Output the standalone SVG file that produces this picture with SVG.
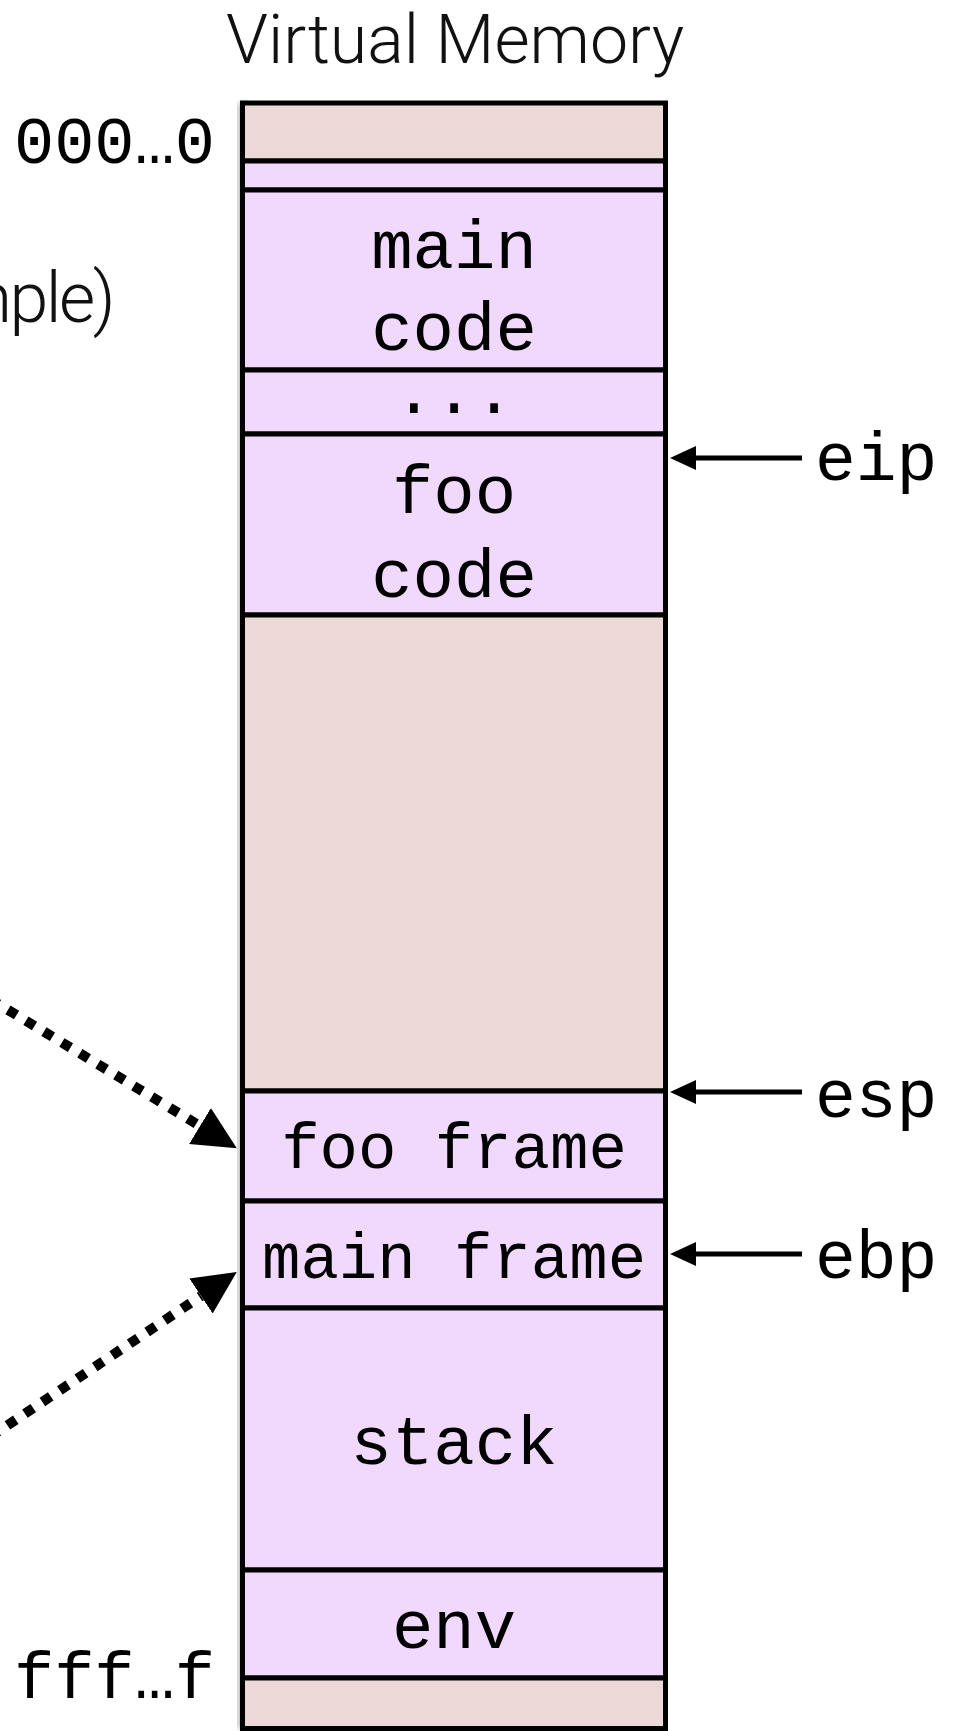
<svg xmlns="http://www.w3.org/2000/svg" width="958" height="1731" viewBox="0 0 958 1731">
  <style>
    .seg { stroke: #000; stroke-width: 5; }
    .free { fill: #EBD8D7; }
    .used { fill: #F1D9FD; }
    .mono { font-family: "Liberation Mono", "Courier New", monospace; fill: #000; }
    .sans { font-family: Roboto, "Liberation Sans", Arial, sans-serif; font-weight: 300; fill: #111; }
    .lbl { text-anchor: middle; }
    .ptr { stroke: #000; stroke-width: 5; fill: none; marker-end: url(#headSmall); }
    .link { stroke: #000; stroke-width: 10; fill: none; stroke-dasharray: 10 11; marker-end: url(#headBig); }
  </style>
  <defs>
    <marker id="headSmall" markerUnits="userSpaceOnUse" viewBox="0 0 26 24" refX="0" refY="12" markerWidth="26" markerHeight="24" orient="auto">
      <path d="M0,0 L26,12 L0,24 z" fill="#000"/>
    </marker>
    <marker id="headBig" markerUnits="userSpaceOnUse" viewBox="0 0 43 42" refX="0" refY="21" markerWidth="43" markerHeight="42" orient="auto">
      <path d="M0,0 L43,21 L0,42 z" fill="#000"/>
    </marker>
    <filter id="shade" x="-10%" y="-2%" width="120%" height="104%">
      <feGaussianBlur stdDeviation="3"/>
    </filter>
  </defs>

  <rect width="958" height="1731" fill="#fff"/>

  <!-- title and address labels -->
  <text class="sans" x="455" y="63" font-size="68" text-anchor="middle" textLength="458" lengthAdjust="spacingAndGlyphs">Virtual Memory</text>
  <text class="sans" x="113" y="322" font-size="70" text-anchor="end" letter-spacing="-2.5">mple)</text>
  <text class="mono" x="215" y="163" font-size="67" text-anchor="end">000…0</text>
  <text class="mono" x="215" y="1698" font-size="67" text-anchor="end">fff…f</text>

  <!-- soft shade along the left side of the column -->
  <rect x="238" y="103" width="10" height="1626" fill="#000" opacity="0.3" filter="url(#shade)"/>

  <!-- memory column, top (low addresses) to bottom (high addresses) -->
  <g id="gap-top"><rect class="seg free" x="242.5" y="103" width="423" height="58"/></g>
  <g id="reserved"><rect class="seg used" x="242.5" y="161" width="423" height="29"/></g>
  <g id="main-code">
    <rect class="seg used" x="242.5" y="190" width="423" height="180"/>
    <text class="mono lbl" x="454" y="268" font-size="69">main</text>
    <text class="mono lbl" x="454" y="350" font-size="69">code</text>
  </g>
  <g id="more-code">
    <rect class="seg used" x="242.5" y="370" width="423" height="64"/>
    <text class="mono lbl" x="454" y="413" font-size="67">...</text>
  </g>
  <g id="foo-code">
    <rect class="seg used" x="242.5" y="434" width="423" height="181"/>
    <text class="mono lbl" x="454" y="513" font-size="69">foo</text>
    <text class="mono lbl" x="454" y="597" font-size="69">code</text>
  </g>
  <g id="free-space"><rect class="seg free" x="242.5" y="615" width="423" height="476"/></g>
  <g id="foo-frame">
    <rect class="seg used" x="242.5" y="1091" width="423" height="110"/>
    <text class="mono lbl" x="454" y="1168" font-size="64">foo frame</text>
  </g>
  <g id="main-frame">
    <rect class="seg used" x="242.5" y="1201" width="423" height="107"/>
    <text class="mono lbl" x="454" y="1278" font-size="64">main frame</text>
  </g>
  <g id="stack">
    <rect class="seg used" x="242.5" y="1308" width="423" height="262"/>
    <text class="mono lbl" x="454" y="1464" font-size="69">stack</text>
  </g>
  <g id="env">
    <rect class="seg used" x="242.5" y="1570" width="423" height="108"/>
    <text class="mono lbl" x="454" y="1648" font-size="69">env</text>
  </g>
  <g id="gap-bottom"><rect class="seg free" x="242.5" y="1678" width="423" height="50.5"/></g>

  <!-- register labels -->
  <g id="reg-eip"><text class="mono" x="815" y="480" font-size="68">eip</text></g>
  <g id="reg-esp"><text class="mono" x="815" y="1117" font-size="68">esp</text></g>
  <g id="reg-ebp"><text class="mono" x="815" y="1278" font-size="68">ebp</text></g>

  <!-- connectors -->
  <g id="connectors">
    <path class="ptr" d="M802,458 L696,458"/>
    <path class="ptr" d="M802,1092 L696,1092"/>
    <path class="ptr" d="M802,1254 L696,1254"/>
    <path class="link" d="M-10,999 L200,1126"/>
    <path class="link" d="M-10,1437 L201,1296"/>
  </g>
</svg>
